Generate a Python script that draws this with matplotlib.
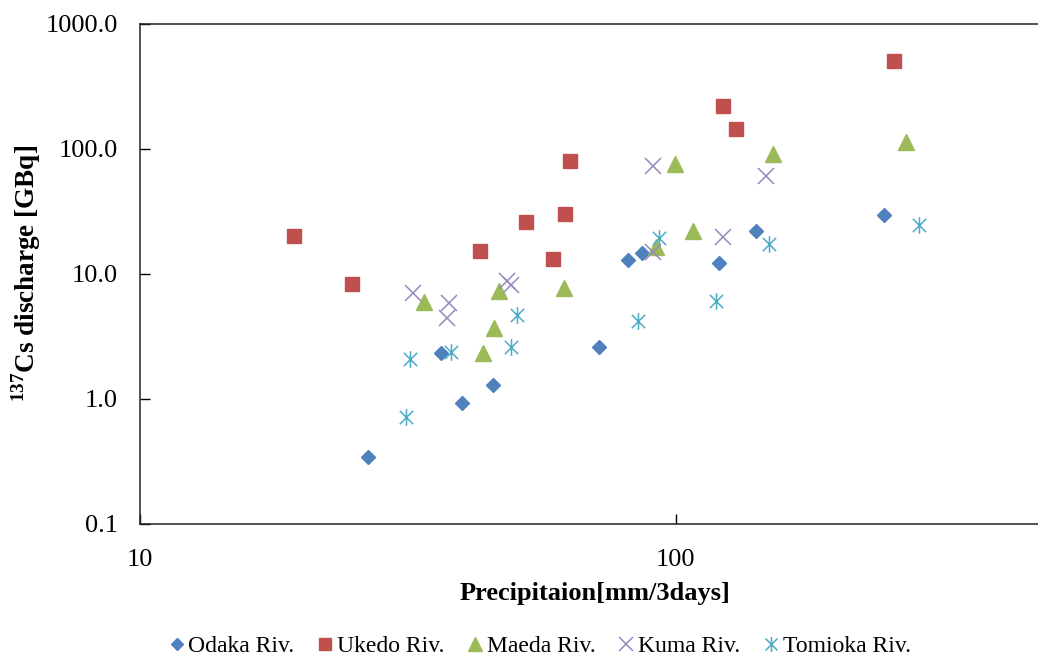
import matplotlib
matplotlib.use("Agg")
import matplotlib.pyplot as plt
from matplotlib.path import Path
from matplotlib.lines import Line2D

plt.rcParams['font.family'] = ['Liberation Serif', 'DejaVu Serif']
plt.rcParams['mathtext.fontset'] = 'custom'
plt.rcParams['mathtext.rm'] = 'Liberation Serif'
plt.rcParams['mathtext.bf'] = 'Liberation Serif:bold'

# precipitation [mm/3days] and 137Cs discharge [GBq] per river
odaka_x = [26.7, 36.5, 39.9, 45.6, 71.8, 81.5, 86.7, 120.6, 141.0, 244.8]
odaka_y = [0.34, 2.30, 0.93, 1.29, 2.58, 12.8, 14.5, 12.2, 21.8, 29.2]

ukedo_x = [19.4, 24.9, 43.1, 52.5, 59.0, 62.1, 63.5, 122.7, 129.6, 256.2]
ukedo_y = [20.1, 8.2, 15.3, 25.9, 13.2, 30.1, 79.0, 217.6, 143.0, 503.0]

maeda_x = [33.9, 43.6, 45.8, 46.8, 61.9, 91.8, 99.6, 107.6, 151.9, 269.6]
maeda_y = [5.97, 2.32, 3.70, 7.31, 7.73, 16.4, 74.8, 22.0, 90.3, 113.0]

kuma_x = [32.4, 37.8, 37.5, 48.4, 49.2, 90.7, 90.7, 122.4, 147.5]
kuma_y = [6.95, 5.84, 4.38, 8.71, 8.09, 72.4, 14.9, 19.5, 60.3]

tomioka_x = [31.4, 31.9, 38.0, 49.3, 50.5, 85.1, 93.3, 118.8, 149.1, 284.9]
tomioka_y = [0.71, 2.06, 2.34, 2.60, 4.66, 4.19, 19.1, 6.03, 17.1, 24.4]

# six-armed asterisk: vertical bar plus an X
asterisk = Path(
    [(0, -1), (0, 1), (-0.8, -0.8), (0.8, 0.8), (-0.8, 0.8), (0.8, -0.8)],
    [Path.MOVETO, Path.LINETO, Path.MOVETO, Path.LINETO, Path.MOVETO, Path.LINETO],
)

series = [
    ("Odaka Riv.", odaka_x, odaka_y, dict(marker='D', ms=7, color='#4F81BD', mec='#4F81BD')),
    ("Ukedo Riv.", ukedo_x, ukedo_y, dict(marker='s', ms=10, color='#C0504D', mec='#C0504D')),
    ("Maeda Riv.", maeda_x, maeda_y, dict(marker='^', ms=11, color='#9BBB59', mec='#9BBB59')),
    ("Kuma Riv.", kuma_x, kuma_y, dict(marker='x', ms=11, color='#9A86BE', mew=1.1)),
    ("Tomioka Riv.", tomioka_x, tomioka_y, dict(marker=asterisk, ms=12, color='#4BACC6', mew=1.1)),
]

fig = plt.figure(figsize=(10.38, 6.58), dpi=100)
ax = fig.add_axes([140 / 1038, 1 - 523.7 / 658, 910 / 1038, 500.2 / 658])

for name, xs, ys, style in series:
    ax.plot(xs, ys, linestyle='none', label=name, **style)

ax.set_xscale('log')
ax.set_yscale('log')
ax.set_xlim(10, 500)
ax.set_ylim(0.1, 1000)

ax.set_xticks([10, 100])
ax.set_xticklabels(['10', '100'])
ax.set_xticks([], minor=True)
ax.set_yticks([0.1, 1, 10, 100, 1000])
ax.set_yticklabels(['0.1', '1.0', '10.0', '100.0', '1000.0'])
ax.set_yticks([], minor=True)
ax.tick_params(axis='both', direction='in', length=7, width=1, labelsize=19)
ax.tick_params(axis='y', pad=16)
ax.tick_params(axis='x', pad=18)

for sp in ax.spines.values():
    sp.set_linewidth(1.1)
    sp.set_color('#222222')

ax.set_xlabel('Precipitaion[mm/3days]', fontsize=19, fontweight='bold', labelpad=8)
ax.set_ylabel(r'$^{\mathregular{137}}$Cs discharge [GBq]', fontsize=19.5, fontweight='bold', labelpad=1.5)

handles = [Line2D([], [], linestyle='none', label=name,
                  **{**style, 'ms': style['ms'] * 0.9}) for name, _, _, style in series]
fig.legend(handles=handles, loc='center', bbox_to_anchor=(540 / 1038, 1 - 646 / 658),
           ncol=5, frameon=False, fontsize=17, handlelength=0.6, handletextpad=0.2,
           columnspacing=1.0, borderpad=0)

fig.savefig('out.png', dpi=100)
